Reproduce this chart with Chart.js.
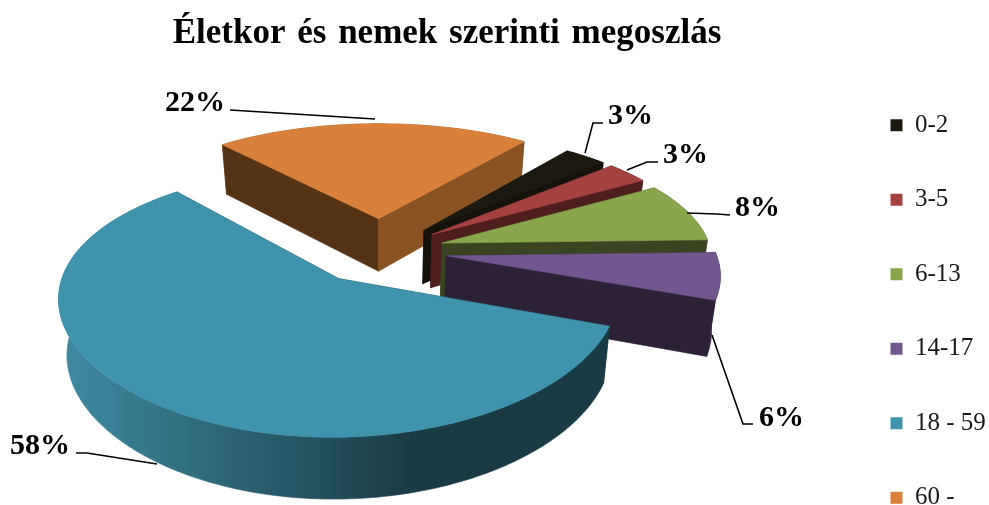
<!DOCTYPE html>
<html lang="hu">
<head>
    <meta charset="UTF-8">
    <title>Életkor és nemek szerinti megoszlás</title>
    <style>
        body { margin: 0; padding: 0; background-color: #ffffff; }
        canvas { display: block; }
    </style>
</head>
<body>
<canvas id="chart" width="989" height="505"></canvas>
<script src="https://cdn.jsdelivr.net/npm/chart.js"></script>
<script>
    const chartTitle = 'Életkor és nemek szerinti megoszlás';
    const categories = ['0-2', '3-5', '6-13', '14-17', '18 - 59', '60 -'];
    const percentages = [3, 3, 8, 6, 58, 22];

    const topColors = ['#1c1a10', '#a5423f', '#8aa64d', '#71568f', '#3f93ad', '#d9813b'];
    const startWallColors = ['#14120a', '#4f1f1e', '#3a4420', '#2c2137', '#1a3a45', '#573316'];
    const endWallColors = ['#14120a', '#4f1f1e', '#3a4420', '#2c2137', '#1a3a45', '#8a5324'];
    const rimStartColors = ['#14120a', '#4f1f1e', '#3a4420', '#2c2137', '#3f8ba3', '#8a5324'];
    const rimEndColors = ['#14120a', '#4f1f1e', '#3a4420', '#2c2137', '#1a3a45', '#8a5324'];
    const sliceOffsets = [36, 36, 36, 37, 40, 42];

    // label text box anchor and leader line, one per slice
    const labelAnchors = [[608, 124], [663, 163], [735, 216], [759, 426], [10, 454], [165, 111]];
    const leaderLines = [
        [[603, 123], [593, 123], [585, 153]],
        [[658, 162], [647, 162], [627, 170]],
        [[730, 215], [717, 214], [687, 213]],
        [[753, 424], [743, 424], [712, 335]],
        [[76, 453], [87, 453], [157, 464]],
        [[230, 110], [375, 119]]
    ];

    // perspective view of the pie plane
    const view = { cx: 380.5, cy: 251, a: 269, b: 121, cX: 0.13, cY: 0.17, shrink: 0.026, depthBase: 24, depthScale: 30 };

    function project(X, Y, z) {
        const s = 1 / (1 + view.cY * Y);
        const x = view.cx + view.a * X / (1 + view.cX * Y);
        const y = view.cy - view.b * Y * s;
        return [
            view.cx + (x - view.cx) * (1 - view.shrink * z),
            y + z * (view.depthBase + view.depthScale * s)
        ];
    }

    function fillPoly(ctx, pts, style) {
        ctx.beginPath();
        pts.forEach((p, i) => i ? ctx.lineTo(p[0], p[1]) : ctx.moveTo(p[0], p[1]));
        ctx.closePath();
        ctx.fillStyle = style;
        ctx.fill();
        ctx.strokeStyle = style;
        ctx.lineWidth = 0.6;
        ctx.stroke();
    }

    const pie3d = {
        id: 'pie3d',
        afterLayout(chart) {
            const title = chart.titleBlock;
            title.left = 0;
            title.right = 894;
            title.top += 1;
            title.bottom += 1;
            // the reference title has wider gaps between words
            if (!title.spaced) {
                const drawTitle = title.draw;
                title.draw = function () {
                    chart.ctx.wordSpacing = '3px';
                    drawTitle.call(title);
                    chart.ctx.wordSpacing = '0px';
                };
                title.spaced = true;
            }
            const legend = chart.legend;
            const w = legend.right - legend.left;
            legend.left = 841;
            legend.right = 841 + w;
            legend.top += 59;
            legend.bottom += 59;
        },
        beforeDatasetsDraw(chart) {
            const ctx = chart.ctx;
            const arcs = chart.getDatasetMeta(0).data;
            const slices = arcs.map((arc, i) => {
                const props = arc.getProps(['startAngle', 'endAngle', 'outerRadius']);
                const mid = (props.startAngle + props.endAngle) / 2;
                const e = sliceOffsets[i] / props.outerRadius;
                return { i, start: props.startAngle, end: props.endAngle, ox: Math.cos(mid) * e, oy: -Math.sin(mid) * e };
            }).sort((p, q) => q.oy - p.oy);

            slices.forEach(sl => {
                const pt = (t, z) => project(sl.ox + Math.cos(t), sl.oy - Math.sin(t), z);
                const apex = z => project(sl.ox, sl.oy, z);
                const edge = [];
                const steps = Math.ceil((sl.end - sl.start) / (Math.PI / 180));
                for (let k = 0; k <= steps; k++) edge.push(sl.start + (sl.end - sl.start) * k / steps);

                const rim = edge.map(t => pt(t, 0)).concat(edge.slice().reverse().map(t => pt(t, 1)));
                const xs = rim.map(p => p[0]);
                const minX = Math.min(...xs), maxX = Math.max(...xs);
                const grad = ctx.createLinearGradient(minX, 0, minX + (maxX - minX) * 0.65, 0);
                grad.addColorStop(0, rimStartColors[sl.i]);
                grad.addColorStop(1, rimEndColors[sl.i]);

                const drawCuts = () => {
                    fillPoly(ctx, [apex(0), pt(sl.start, 0), pt(sl.start, 1), apex(1)], startWallColors[sl.i]);
                    fillPoly(ctx, [apex(0), pt(sl.end, 0), pt(sl.end, 1), apex(1)], endWallColors[sl.i]);
                };
                const facesFront = sl.end - sl.start > Math.PI;
                if (facesFront) {
                    drawCuts();
                    fillPoly(ctx, rim, grad);
                } else {
                    fillPoly(ctx, rim, grad);
                    drawCuts();
                }
                fillPoly(ctx, [apex(0)].concat(edge.map(t => pt(t, 0))), topColors[sl.i]);
            });
            return false;
        },
        afterDraw(chart) {
            const ctx = chart.ctx;
            ctx.save();
            ctx.strokeStyle = '#000000';
            ctx.lineWidth = 1.6;
            leaderLines.forEach(line => {
                ctx.beginPath();
                line.forEach((p, i) => i ? ctx.lineTo(p[0], p[1]) : ctx.moveTo(p[0], p[1]));
                ctx.stroke();
            });
            ctx.fillStyle = '#000000';
            ctx.font = 'bold 30px "Liberation Serif"';
            ctx.textAlign = 'left';
            ctx.textBaseline = 'alphabetic';
            percentages.forEach((v, i) => {
                ctx.fillText(v + '%', labelAnchors[i][0], labelAnchors[i][1]);
            });
            ctx.restore();
        }
    };

    new Chart(document.getElementById('chart'), {
        type: 'pie',
        data: {
            labels: categories,
            datasets: [{
                data: percentages,
                backgroundColor: topColors,
                borderWidth: 0,
                offset: sliceOffsets
            }]
        },
        options: {
            responsive: false,
            animation: false,
            rotation: 38,
            radius: 150,
            layout: { padding: 0 },
            plugins: {
                tooltip: { enabled: false },
                title: {
                    display: true,
                    text: chartTitle,
                    color: '#000000',
                    font: { family: '"Liberation Serif"', size: 35, weight: 'bold' },
                    padding: { top: 12, bottom: 10 }
                },
                legend: {
                    position: 'right',
                    labels: {
                        color: '#1a1a1a',
                        font: { family: '"Liberation Serif"', size: 25 },
                        boxWidth: 12,
                        boxHeight: 12,
                        padding: 49.5
                    }
                }
            }
        },
        plugins: [pie3d]
    });
</script>
</body>
</html>
